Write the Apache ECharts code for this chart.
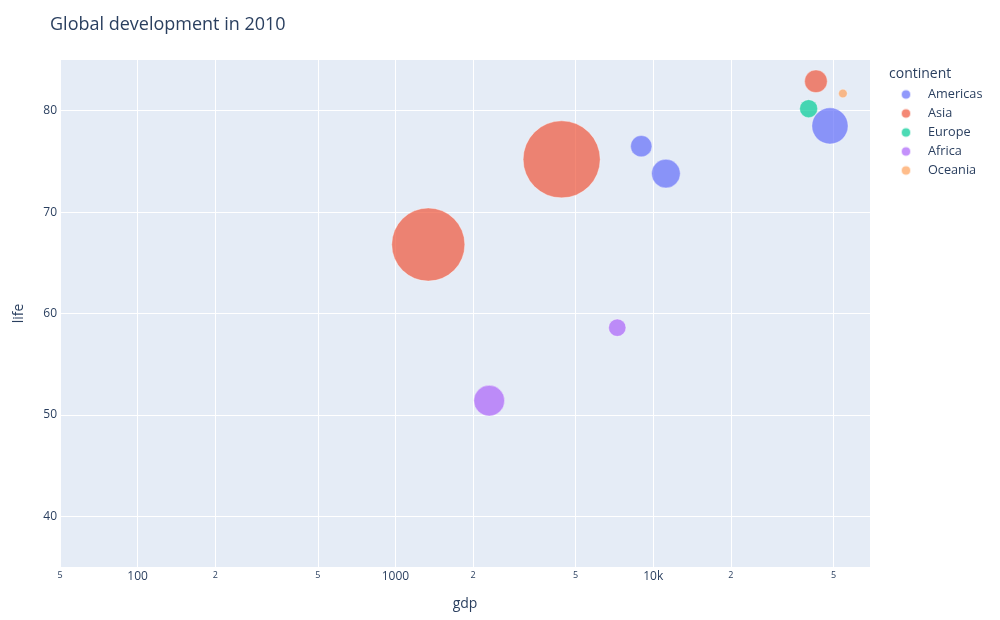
<!DOCTYPE html>
<html>
<head>
<meta charset="utf-8">
<script src="https://cdn.jsdelivr.net/npm/echarts@6/dist/echarts.min.js"></script>
<style>
  html, body { margin: 0; padding: 0; background: #fff; }
  #chart { width: 1000px; height: 620px; }
</style>
</head>
<body>
<div id="chart"></div>
<script>
// continents shown in the legend, in trace order
var continents = ['Americas', 'Asia', 'Europe', 'Africa', 'Oceania'];
var colors = ['#636efa', '#EF553B', '#00cc96', '#ab63fa', '#FFA15A'];

// [gdp, life, pop in millions]
var americas = [[48470, 78.5, 295], [8985, 76.5, 103], [11200, 73.8, 186]];
var asia = [[4413, 75.2, 1340], [1341, 66.8, 1205], [42760, 82.9, 116]];
var europe = [[40060, 80.2, 73]];
var africa = [[7252, 58.6, 68], [2311, 51.4, 213]];
var oceania = [[54400, 81.7, 17]];

// tick values and labels of the log gdp axis
var xTicks = [50, 100, 200, 500, 1000, 2000, 5000, 10000, 20000, 50000];
var xTickLabels = ['5', '100', '2', '5', '1000', '2', '5', '10k', '2', '5'];
var yTicks = [40, 50, 60, 70, 80];

var textColor = '#2a3f5f';
var font = '"Open Sans", "DejaVu Sans", Arial, sans-serif';

var chart = echarts.init(document.getElementById('chart'));

//bubble diameter ~ sqrt(population)
function bubbleSize(d) {
  return Math.sqrt(d[2]) * 77 / Math.sqrt(1340);
}

var allData = [americas, asia, europe, africa, oceania];
var series = continents.map(function(name, i) {
  return {
    name: name,
    type: 'scatter',
    data: allData[i],
    symbolSize: bubbleSize,
    itemStyle: {
      color: colors[i],
      opacity: 0.7,
      borderColor: '#fff',
      borderWidth: 0.5
    },
    emphasis: { disabled: true }
  };
});

chart.setOption({
  backgroundColor: '#fff',
  textStyle: { fontFamily: font },
  animation: false,
  title: [{
    text: 'Global development in 2010',
    left: 50,
    top: 16,
    padding: 0,
    textStyle: { fontFamily: font, fontSize: 18, fontWeight: 'normal', color: textColor }
  }, {
    text: 'continent',
    left: 889,
    top: 67,
    padding: 0,
    textStyle: { fontFamily: font, fontSize: 14, fontWeight: 'normal', color: textColor }
  }],
  legend: {
    orient: 'vertical',
    left: 900,
    top: 88,
    padding: 0,
    icon: 'circle',
    itemWidth: 34,
    itemHeight: 10,
    itemGap: 6,
    data: continents,
    textStyle: { fontFamily: font, fontSize: 12.7, color: textColor, lineHeight: 12 }
  },
  grid: {
    left: 60,
    right: 130,
    top: 60,
    bottom: 53,
    show: true,
    backgroundColor: '#E5ECF6',
    borderWidth: 0,
    containLabel: false,
    outerBoundsMode: 'none'
  },
  xAxis: {
    type: 'log',
    logBase: 10,
    min: 50,
    max: 69300,
    name: 'gdp',
    nameLocation: 'middle',
    nameGap: 30,
    nameTextStyle: { fontFamily: font, fontSize: 14, color: textColor },
    axisLine: { show: false },
    axisTick: { show: false, customValues: xTicks },
    axisLabel: {
      customValues: xTicks,
      margin: 4,
      formatter: function(v) {
        var i = xTicks.indexOf(Math.round(v));
        var t = i >= 0 ? xTickLabels[i] : '';
        if (t.length > 1) return '{big|' + t + '}';
        return '{small|' + t + '}';
      },
      rich: {
        big: { fontFamily: font, fontSize: 12, color: textColor },
        small: { fontFamily: font, fontSize: 9, color: textColor }
      }
    },
    splitLine: { show: true, lineStyle: { color: '#fff', width: 1 } }
  },
  yAxis: {
    type: 'value',
    min: 35,
    max: 85,
    name: 'life',
    nameLocation: 'middle',
    nameGap: 34,
    nameTextStyle: { fontFamily: font, fontSize: 14, color: textColor },
    axisLine: { show: false },
    axisTick: { show: false, customValues: yTicks },
    axisLabel: {
      customValues: yTicks,
      margin: 3,
      fontFamily: font,
      fontSize: 12,
      color: textColor
    },
    splitLine: { show: true, lineStyle: { color: '#fff', width: 1 } }
  },
  series: series
});
</script>
</body>
</html>
